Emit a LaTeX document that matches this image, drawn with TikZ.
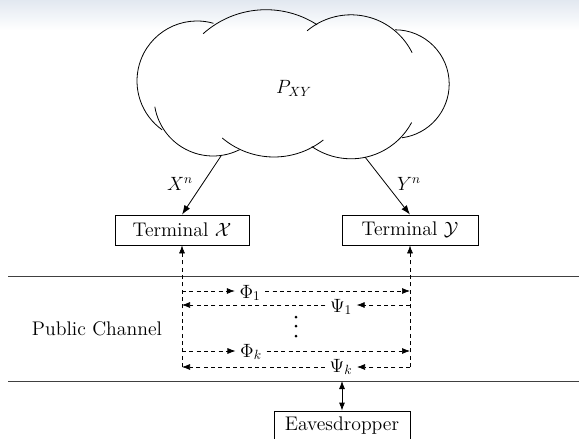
\documentclass[tikz,border=0pt]{standalone}
\usepackage{fontspec}
\usetikzlibrary{arrows.meta}
\tikzset{
  box/.style={draw, line width=0.6pt, minimum height=22.5pt, inner sep=0pt},
  dline/.style={dash pattern=on 3pt off 2.5pt, line width=0.5pt},
  tip/.style={-{Latex[length=6pt,width=4.5pt]}},
  stip/.style={-{Latex[length=7pt,width=5pt]}},
  cl/.style={line width=0.6pt},
  hline/.style={line width=0.6pt, black!75},
  lbl/.style={anchor=base}
}
\newcommand\cloudarc[5]{%
  \draw[cl] ([shift={(-#4:#3)}]#1,#2) arc[start angle=-#4, end angle=-#5, radius=#3];}
\begin{document}
\begin{tikzpicture}[x=0.75pt,y=-0.75pt,font=\fontsize{14.8}{17.8}\selectfont]
\useasboundingbox (0,0) rectangle (579,439);
\clip (0,0) rectangle (579,439);
\shade[top color={rgb,255:red,226;green,232;blue,240}, bottom color=white] (0,0) rectangle (579,30);
% cloud
\cloudarc{197}{81}{60}{74}{234.5}
\cloudarc{213}{97}{59}{189.5}{296.8}
\cloudarc{266}{104}{94.3}{131.8}{57.2}
\cloudarc{351}{83}{68.2}{130}{26.3}
\cloudarc{395}{84}{54.2}{90}{-82.6}
\cloudarc{351}{90}{68.8}{235.3}{331.8}
\cloudarc{274}{77}{80}{229.7}{308.1}
\node (pxy) at (294,88) {$P_{XY}$};
\coordinate (xs) at (221,156);
\coordinate (ys) at (365,157);
% terminals
\node[box, minimum width=100.5pt] (tx) at (182,230) {Terminal $\mathcal{X}$};
\node[box, minimum width=102pt] (ty) at (410,230) {Terminal $\mathcal{Y}$};
\node[box, minimum width=102pt] (ev) at (342,426) {Eavesdropper};
\node (xn) at (180,184) {$X^n$};
\node (yn) at (409,184) {$Y^n$};
\draw[cl,stip] (xs) -- (tx.north);
\draw[cl,stip] (ys) -- (ty.north);
% public channel
\draw[hline] (8,276) -- (579,276);
\draw[hline] (8,381) -- (579,381);
\node (pc) at (97,329) {Public Channel};
\coordinate (l1) at (182,291); \coordinate (r1) at (410,291);
\coordinate (l2) at (182,305); \coordinate (r2) at (410,305);
\coordinate (l3) at (182,351); \coordinate (r3) at (410,351);
\coordinate (l4) at (182,367); \coordinate (r4) at (410,367);
\node[lbl] (phi1) at (250,298) {$\Phi_1$};
\node[lbl] (psi1) at (341,312) {$\Psi_1$};
\node[lbl] (phik) at (251,357) {$\Phi_k$};
\node[lbl] (psik) at (341,372) {$\Psi_k$};
\draw[dline,tip] (l4) -- (tx.south);
\draw[dline,tip] (r4) -- (ty.south);
\draw[dline,tip] (l1) -- (l1 -| phi1.west);
\draw[dline,tip] (l1 -| phi1.east) -- (r1);
\draw[dline,tip] (r2) -- (r2 -| psi1.east);
\draw[dline,tip] (r2 -| psi1.west) -- (l2);
\draw[dline,tip] (l3) -- (l3 -| phik.west);
\draw[dline,tip] (l3 -| phik.east) -- (r3);
\draw[dline,tip] (r4) -- (r4 -| psik.east);
\draw[dline,tip] (r4 -| psik.west) -- (l4);
\fill (296,317) circle[radius=1.5];
\fill (296,326) circle[radius=1.5];
\fill (296,336) circle[radius=1.5];
\coordinate (e1) at (342,381);
\draw[cl,{Latex[length=6pt,width=4.5pt]}-{Latex[length=6pt,width=4.5pt]}] (e1) -- (ev.north);
\end{tikzpicture}
\end{document}
